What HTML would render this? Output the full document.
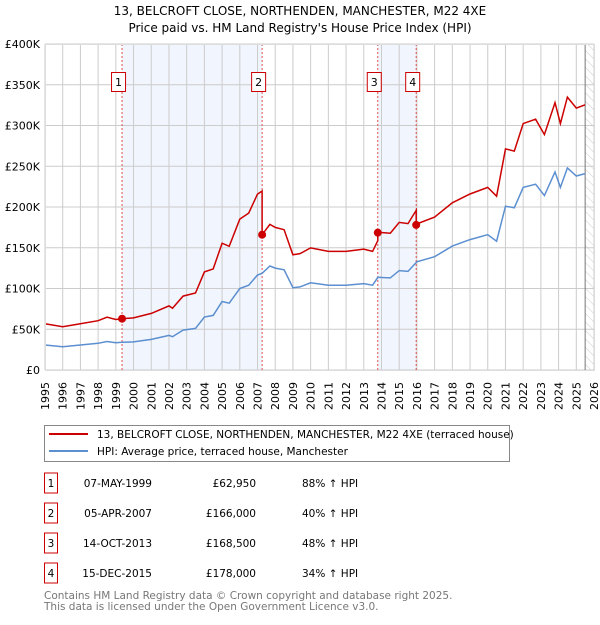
<!DOCTYPE html>
<html><head><meta charset="utf-8">
<style>
body{margin:0;background:#fff;font-family:"Liberation Sans","DejaVu Sans",sans-serif;}
svg text{font-family:"DejaVu Sans","Liberation Sans",sans-serif;}
</style></head>
<body>
<svg id="chart" width="600" height="620" viewBox="0 0 600 620">
<defs>
<pattern id="hatch" width="6" height="6" patternUnits="userSpaceOnUse" patternTransform="rotate(-45)">
<line x1="0" y1="0" x2="0" y2="6" stroke="#ccc" stroke-width="1"/>
</pattern>
</defs>
<text x="300" y="15" text-anchor="middle" font-size="12">13, BELCROFT CLOSE, NORTHENDEN, MANCHESTER, M22 4XE</text>
<text x="300" y="32" text-anchor="middle" font-size="12">Price paid vs. HM Land Registry's House Price Index (HPI)</text>
<g id="plot"></g>
<g id="legend">
<rect x="44.5" y="425.5" width="465" height="36" fill="#fff" stroke="#888"/>
<line x1="49" y1="434" x2="88" y2="434" stroke="#cc0000" stroke-width="2"/>
<text x="97" y="438" font-size="10.5">13, BELCROFT CLOSE, NORTHENDEN, MANCHESTER, M22 4XE (terraced house)</text>
<line x1="49" y1="451" x2="88" y2="451" stroke="#5b8fd0" stroke-width="2"/>
<text x="97" y="455" font-size="10.5">HPI: Average price, terraced house, Manchester</text>
</g>
<g id="table" font-size="10.5"></g>
<text x="44" y="599" font-size="10.5" fill="#777">Contains HM Land Registry data © Crown copyright and database right 2025.</text>
<text x="44" y="610" font-size="10.5" fill="#777">This data is licensed under the Open Government Licence v3.0.</text>
</svg>
<script>
const hpiYears=[1995,1996,1997,1998,1998.5,1999,1999.35,2000,2001,2002,2002.2,2002.8,2003.5,2004,2004.5,2005,2005.4,2006,2006.5,2007,2007.26,2007.7,2008,2008.5,2009,2009.4,2010,2011,2012,2013,2013.5,2013.8,2014.5,2015,2015.5,2016,2017,2018,2019,2020,2020.5,2021,2021.5,2022,2022.7,2023.2,2023.8,2024.1,2024.5,2025,2025.5];
const hpiValues=[30700,28600,30700,32700,35000,33500,34000,34500,37500,42500,40900,49000,51000,65000,67000,84000,82000,100000,104000,116600,118600,127600,125000,123000,101000,102000,107000,104000,104000,106000,104000,113800,113000,122000,121000,132800,139000,152000,160000,166000,158000,201000,199000,224000,228000,214000,243000,224000,248000,238000,241000];
const saleLabels=["1","2","3","4"];
const saleYears=[1999.35,2007.26,2013.79,2015.96];
const salePrices=[62950,166000,168500,178000];
const saleDates=["07-MAY-1999","05-APR-2007","14-OCT-2013","15-DEC-2015"];
const salePct=["88% \u2191 HPI","40% \u2191 HPI","48% \u2191 HPI","34% \u2191 HPI"];
const yTicks=[0,50000,100000,150000,200000,250000,300000,350000,400000];
const yTickLabels=["£0","£50K","£100K","£150K","£200K","£250K","£300K","£350K","£400K"];
const xTicks=[1995,1996,1997,1998,1999,2000,2001,2002,2003,2004,2005,2006,2007,2008,2009,2010,2011,2012,2013,2014,2015,2016,2017,2018,2019,2020,2021,2022,2023,2024,2025,2026];

const NS="http://www.w3.org/2000/svg";
const X0=45,X1=594,Y0=370,Y1=44;
const xs=y=>X0+(y-1995)/(2026-1995)*(X1-X0);
const ys=v=>Y0-v/400000*(Y0-Y1);
function mk(tag,attrs,parent){const e=document.createElementNS(NS,tag);for(const k in attrs)e.setAttribute(k,attrs[k]);parent.appendChild(e);return e;}
function hpiAt(t){for(let i=0;i<hpiYears.length-1;i++){if(t<=hpiYears[i+1]){const f=(t-hpiYears[i])/(hpiYears[i+1]-hpiYears[i]);return hpiValues[i]+f*(hpiValues[i+1]-hpiValues[i]);}}return hpiValues[hpiValues.length-1];}
const plot=document.getElementById('plot');
let r;
r=mk('rect',{x:X0,y:Y1,width:X1-X0,height:Y0-Y1,fill:'#fff'},plot);


r=mk('rect',{x:xs(saleYears[0]),y:Y1,width:xs(saleYears[1])-xs(saleYears[0]),height:Y0-Y1,fill:'#eef3fc',opacity:0.8},plot);


r=mk('rect',{x:xs(saleYears[2]),y:Y1,width:xs(saleYears[3])-xs(saleYears[2]),height:Y0-Y1,fill:'#eef3fc',opacity:0.8},plot);


r=mk('rect',{x:xs(2025.5),y:Y1,width:X1-xs(2025.5),height:Y0-Y1,fill:'url(#hatch)'},plot);


xTicks.forEach((t,i)=>{
 const l=mk('line',{x1:xs(t),x2:xs(t),y1:Y1,y2:Y0,stroke:'#ccc','stroke-width':1},plot);
 
 
 const tx=mk('text',{x:0,y:0,'font-size':11,'text-anchor':'end',transform:`translate(${xs(t)+4},382) rotate(-90)`},plot);
 tx.textContent=t;
 
 
});
yTicks.forEach((v,i)=>{
 const l=mk('line',{x1:X0,x2:X1,y1:ys(v),y2:ys(v),stroke:'#ccc','stroke-width':1},plot);
 
 
 const tx=mk('text',{x:40,y:ys(v)+4,'font-size':11,'text-anchor':'end'},plot);
 tx.textContent=yTickLabels[i];
 
 
});
r=mk('line',{x1:xs(2025.5),x2:xs(2025.5),y1:Y1,y2:Y0,stroke:'#777','stroke-width':1},plot);


saleYears.forEach((t,i)=>{
 const l=mk('line',{x1:xs(t),x2:xs(t),y1:Y1,y2:Y0,stroke:'#e05050','stroke-width':1,'stroke-dasharray':'2,2'},plot);
 
 
});
let d='';
hpiYears.forEach((t,i)=>{d+=(i?'L':'M')+xs(t).toFixed(1)+','+ys(hpiValues[i]).toFixed(1);});
r=mk('path',{d:d,fill:'none',stroke:'#5b8fd0','stroke-width':1.5},plot);


function factorAt(t){let k=0;for(let i=0;i<saleYears.length;i++){if(t>=saleYears[i])k=i;}return salePrices[k]/hpiAt(saleYears[k]);}
const pts=[];
const all=hpiYears.concat(saleYears).sort((a,b)=>a-b);
all.forEach(t=>{
 const si=saleYears.indexOf(t);
 if(si>0){pts.push([t,hpiAt(t)*salePrices[si-1]/hpiAt(saleYears[si-1])]);pts.push([t,salePrices[si]]);}
 else pts.push([t,hpiAt(t)*factorAt(t)]);
});
d='';
pts.forEach((p,i)=>{d+=(i?'L':'M')+xs(p[0]).toFixed(1)+','+ys(p[1]).toFixed(1);});
r=mk('path',{d:d,fill:'none',stroke:'#cc0000','stroke-width':1.5},plot);


saleYears.forEach((t,i)=>{
 const c=mk('circle',{cx:xs(t),cy:ys(salePrices[i]),r:4,fill:'#cc0000'},plot);
 
 
 const b=mk('rect',{x:xs(t)-10.5,y:72.5,width:14,height:19,fill:'#fff',stroke:'#cc0000'},plot);
 
 
 const tx=mk('text',{x:xs(t)-3.5,y:86,'font-size':11,'text-anchor':'middle'},plot);
 tx.textContent=saleLabels[i];
 
 
});
r=mk('rect',{x:X0+0.5,y:Y1+0.5,width:X1-X0,height:Y0-Y1,fill:'none',stroke:'#ddd'},plot);


const tbl=document.getElementById('table');
saleLabels.forEach((lab,i)=>{
 const cy=483+i*30;
 const b=mk('rect',{x:44.5,y:cy-10,width:13,height:20,fill:'#fff',stroke:'#cc0000'},tbl);
 
 
 let t=mk('text',{x:51,y:cy+4,'text-anchor':'middle'},tbl);t.textContent=lab;
 
 
 t=mk('text',{x:152,y:cy+4,'text-anchor':'end'},tbl);t.textContent=saleDates[i];
 
 
 t=mk('text',{x:256,y:cy+4,'text-anchor':'end'},tbl);t.textContent='£'+salePrices[i].toLocaleString('en-GB');
 
 
 t=mk('text',{x:302,y:cy+4},tbl);t.textContent=salePct[i];
 
 
});
</script>
</body></html>
